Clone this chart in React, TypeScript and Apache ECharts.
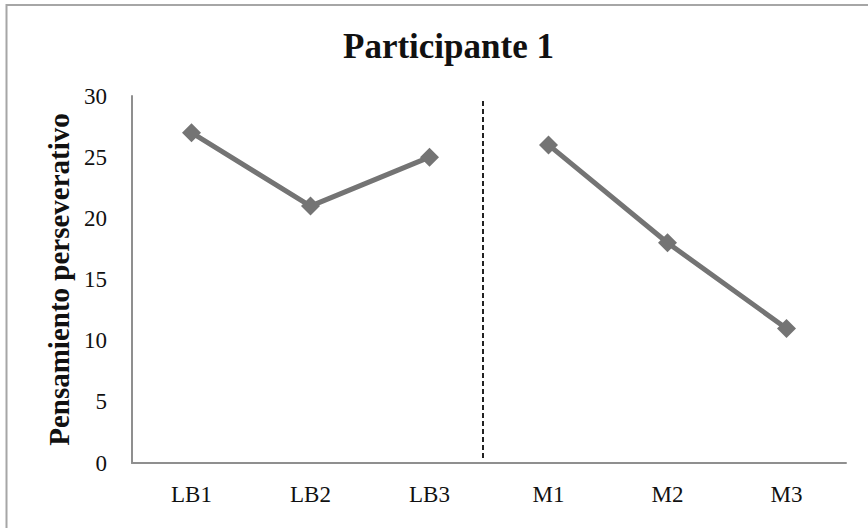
import React, { useEffect, useRef } from "react";
import * as echarts from "echarts";

// Sessions: baseline (LB) and intervention (M)
const categories = ["LB1", "LB2", "LB3", "M1", "M2", "M3"];
const baselineValues = [27, 21, 25, null, null, null];
const interventionValues = [null, null, null, 26, 18, 11];
const yTicks = { min: 0, max: 30, interval: 5 };
const phaseBoundary = 2.95;

const SERIF = "'Liberation Serif', 'DejaVu Serif', serif";
const LINE_COLOR = "#747474";
const AXIS_COLOR = "#8f8f8f";

export default function App() {
  const ref = useRef<HTMLDivElement>(null);

  useEffect(() => {
    if (!ref.current) return;
    const chart = echarts.init(ref.current, null, { renderer: "svg" });

    const lineSeries = (name: string, data: (number | null)[]) => ({
      name,
      type: "line",
      data,
      xAxisIndex: 0,
      yAxisIndex: 0,
      connectNulls: false,
      symbol: "diamond",
      symbolSize: 19,
      lineStyle: { color: LINE_COLOR, width: 5 },
      itemStyle: { color: LINE_COLOR },
    });

    chart.setOption({
      animation: false,
      backgroundColor: "#ffffff",
      title: {
        text: "Participante 1",
        left: 338,
        top: 24,
        textStyle: { fontFamily: SERIF, fontWeight: "bold", fontSize: 35, color: "#111" },
      },
      grid: { left: 132, right: 22, top: 96, bottom: 65 },
      xAxis: [
        {
          type: "category",
          data: categories,
          boundaryGap: true,
          axisLine: { lineStyle: { color: AXIS_COLOR, width: 2 } },
          axisTick: { show: false },
          axisLabel: { fontFamily: SERIF, fontSize: 23, color: "#111", margin: 20 },
        },
        {
          type: "value",
          min: 0,
          max: categories.length,
          show: false,
          position: "bottom",
        },
      ],
      yAxis: {
        type: "value",
        min: yTicks.min,
        max: yTicks.max,
        interval: yTicks.interval,
        splitLine: { show: false },
        axisLine: { show: true, lineStyle: { color: AXIS_COLOR, width: 2 } },
        axisTick: { show: false },
        axisLabel: { fontFamily: SERIF, fontSize: 23, color: "#111", margin: 25 },
        name: "Pensamiento perseverativo",
        nameLocation: "middle",
        nameGap: 53,
        nameRotate: 90,
        nameTextStyle: { fontFamily: SERIF, fontWeight: "bold", fontSize: 29, color: "#111" },
      },
      graphic: [
        {
          type: "rect",
          shape: { x: 6.5, y: 5, width: 900, height: 600 },
          style: { fill: "none", stroke: "#a6a6a6", lineWidth: 2 },
          silent: true,
        },
      ],
      series: [
        lineSeries("LB", baselineValues),
        lineSeries("M", interventionValues),
        {
          type: "scatter",
          data: [],
          xAxisIndex: 1,
          yAxisIndex: 0,
          markLine: {
            silent: true,
            symbol: "none",
            label: { show: false },
            lineStyle: { color: "#222", type: [5, 3], width: 2 },
            data: [
              [
                { coord: [phaseBoundary, 0.4] },
                { coord: [phaseBoundary, 29.7] },
              ],
            ],
          },
        },
      ],
    });

    return () => chart.dispose();
  }, []);

  return (
    <div
      ref={ref}
      style={{ position: "absolute", left: 0, top: 0, width: 868, height: 528 }}
    />
  );
}
